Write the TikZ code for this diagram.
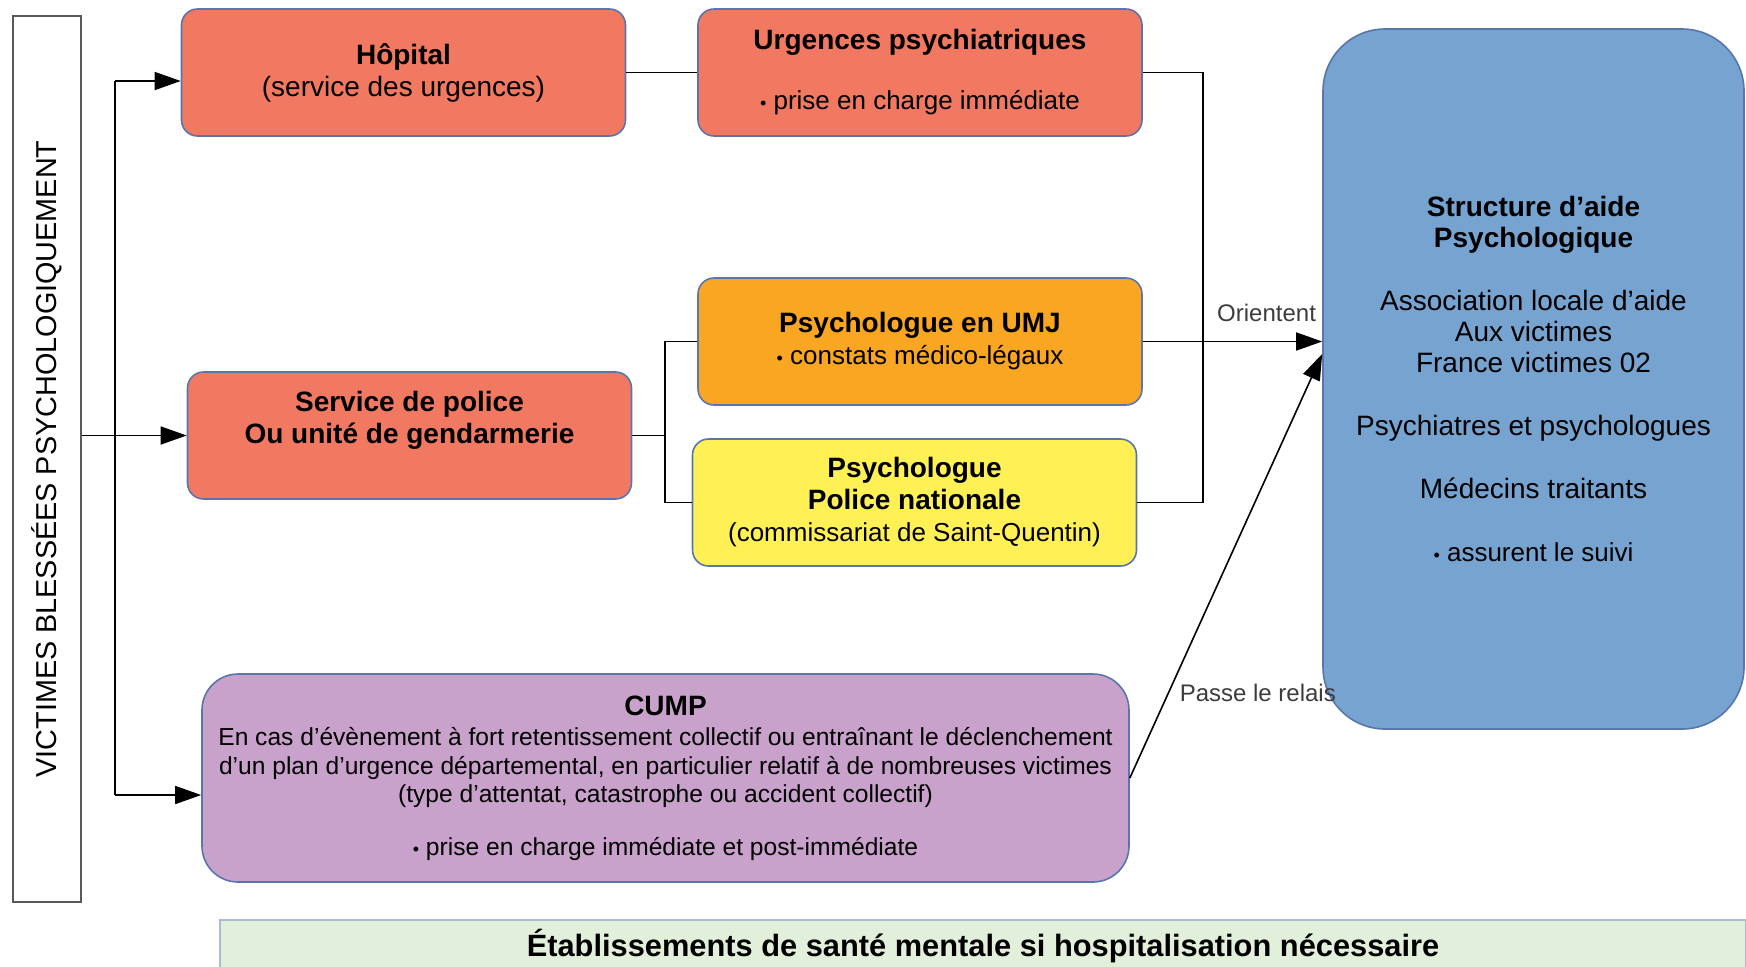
\documentclass[tikz,border=0pt]{standalone}
\usepackage{fontspec}
\setmainfont{Liberation Sans}
\usetikzlibrary{arrows.meta}
\definecolor{saumon}{RGB}{241,121,97}
\definecolor{orangeumj}{RGB}{249,166,35}
\definecolor{jaunepn}{RGB}{255,241,85}
\definecolor{violetcump}{RGB}{201,162,204}
\definecolor{bleuaide}{RGB}{119,163,208}
\definecolor{vertetab}{RGB}{226,239,218}
\definecolor{bordbleu}{RGB}{88,118,172}
\definecolor{gristexte}{RGB}{60,60,60}
\newcommand{\puce}{{\fontsize{9}{9}\selectfont•}~}
\begin{document}
\begin{tikzpicture}[x=0.5pt, y=-0.5pt,
    boite/.style={draw=bordbleu, line width=0.8pt, rounded corners=8pt, align=center,
        font=\fontsize{14}{16}\selectfont, minimum width=222pt, minimum height=63.5pt, inner sep=0pt},
    fleche/.style={-{Triangle[length=13pt,width=9pt]}, line width=0.8pt},
    trait/.style={line width=0.8pt},
    etiq/.style={font=\fontsize{12}{14}\selectfont, text=gristexte}]
    \useasboundingbox (0,0) rectangle (1746,966);
    % 
    \node[draw=gray!70!black, line width=1.2pt, fill=white, rotate=90, minimum width=443pt,
        minimum height=34pt, font=\fontsize{14.4}{16}\selectfont] (victimes) at (47,459) {VICTIMES BLESSÉES PSYCHOLOGIQUEMENT};
    %%%%%%%%%%%%%%%%%%%%%% 
    \node[boite, fill=saumon] (hopital) at (403.5,72.5) {\textbf{Hôpital}\\(service des urgences)};
    % 
    \node[boite, fill=saumon] (urgences) at (920,72.5) {\textbf{Urgences psychiatriques}\\[14pt]{\fontsize{13}{15}\selectfont\puce prise en charge immédiate}};
    % 
    \node[boite, fill=saumon] (police) at (409.5,435.5) {\textbf{Service de police}\\\textbf{Ou unité de gendarmerie}\\[2pt]\mbox{}};
    % 
    \node[boite, fill=orangeumj] (umj) at (920,341.5) {\textbf{Psychologue en UMJ}\\{\fontsize{13}{15}\selectfont\puce constats médico-légaux}};
    % 
    \node[boite, fill=jaunepn] (pn) at (914.5,502.5) {\textbf{Psychologue}\\\textbf{Police nationale}\\{\fontsize{13}{15}\selectfont(commissariat de Saint-Quentin)}};
    % 
    \node[boite, fill=violetcump, minimum width=463.5pt, minimum height=104pt, rounded corners=18pt,
        font=\fontsize{12.3}{14.2}\selectfont] (cump) at (665.5,778)
        {{\fontsize{14}{16}\selectfont\textbf{CUMP}}\\[1pt]
        En cas d’évènement à fort retentissement collectif ou entraînant le déclenchement\\
        d’un plan d’urgence départemental, en particulier relatif à de nombreuses victimes\\
        (type d’attentat, catastrophe ou accident collectif)\\[12pt]
        \puce prise en charge immédiate et post-immédiate};
    % 
    \node[boite, fill=bleuaide, minimum width=210.5pt, minimum height=350pt, rounded corners=31pt,
        font=\fontsize{14}{15.5}\selectfont] (aide) at (1533.5,379)
        {\textbf{Structure d’aide}\\\textbf{Psychologique}\\[16pt]Association locale d’aide\\Aux victimes\\France victimes 02\\[16pt]
        Psychiatres et psychologues\\[16pt]Médecins traitants\\[16pt]{\fontsize{13}{15}\selectfont\puce assurent le suivi}};
    % 
    \node[draw=bordbleu!50, line width=0.8pt, fill=vertetab, minimum width=763pt, minimum height=26pt,
        font=\bfseries\fontsize{15.4}{17}\selectfont] (etab) at (983,946) {Établissements de santé mentale si hospitalisation nécessaire};
    %%%%%%%%%%%%%%%%%%%%%% 
    \coordinate (tronchaut) at (115,81);
    \coordinate (troncbas) at (115,795);
    \coordinate (jgauche) at (665,0);
    \coordinate (jdroite) at (1203,0);
    % 
    \draw[fleche] (victimes.south |- police.west) -- (police.west);
    % 
    \draw[trait] (tronchaut) -- (troncbas);
    % 
    \draw[fleche] (tronchaut) -- (tronchaut -| hopital.west);
    % 
    \draw[fleche] (troncbas) -- (troncbas -| cump.west);
    % 
    \draw[trait] (hopital.east) -- (urgences.west);
    % 
    \draw[trait] (urgences.east) -- (urgences.east -| jdroite) -- (pn.east -| jdroite) -- (pn.east);
    % 
    \draw[trait] (police.east) -- (police.east -| jgauche);
    % 
    \draw[trait] (umj.west) -- (umj.west -| jgauche) -- (pn.west -| jgauche) -- (pn.west);
    % 
    \draw[fleche] (umj.east) -- (umj.east -| aide.west) node[etiq, pos=0.69, above, yshift=6pt] {Orientent};
    % 
    \draw[fleche] (cump.east) -- ([yshift=12.5pt]aide.west) node[etiq, pos=0.2, right, xshift=2pt] {Passe le relais};
\end{tikzpicture}
\end{document}
